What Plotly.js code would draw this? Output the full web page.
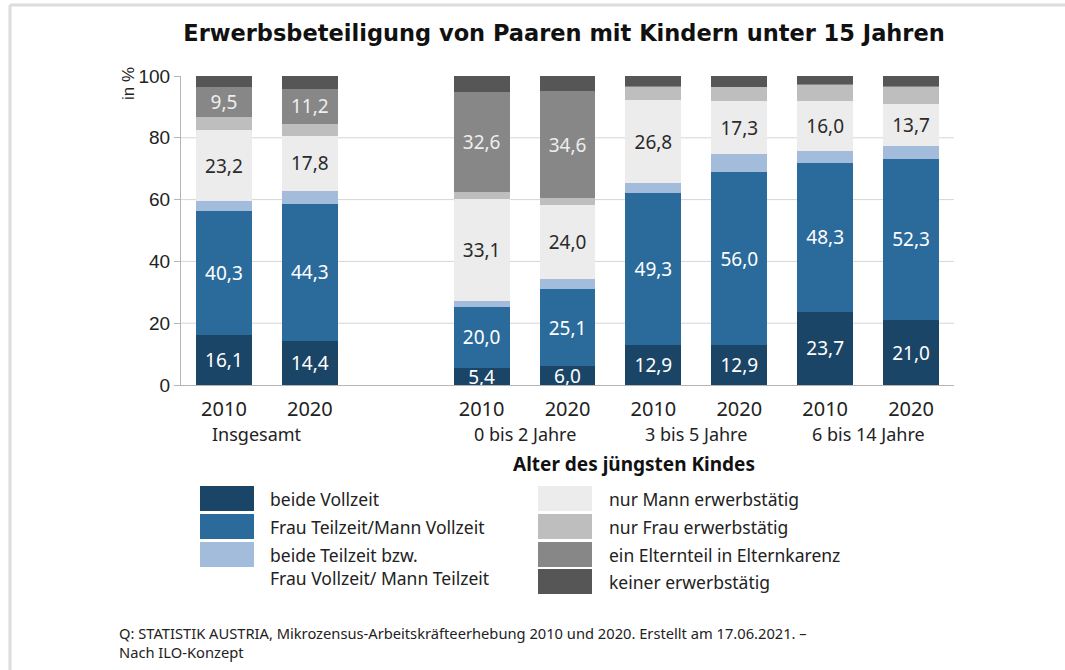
<!DOCTYPE html>
<html>
<head>
<meta charset="utf-8">
<script src="https://cdn.plot.ly/plotly-3.0.1.min.js"></script>
<style>
html,body{margin:0;padding:0;background:#fff;}
#chart{width:1065px;height:670px;}
</style>
</head>
<body>
<div id="chart"></div>
<script>
// ---- data ----
const groups = ["Insgesamt", "Insgesamt", "0 bis 2 Jahre", "0 bis 2 Jahre", "3 bis 5 Jahre", "3 bis 5 Jahre", "6 bis 14 Jahre", "6 bis 14 Jahre"];
const years = ["2010", "2020", "2010", "2020", "2010", "2020", "2010", "2020"];
const groupLabels = ["Insgesamt", "0 bis 2 Jahre", "3 bis 5 Jahre", "6 bis 14 Jahre"];

const seriesNames = [
  "beide Vollzeit",
  "Frau Teilzeit/Mann Vollzeit",
  "beide Teilzeit bzw.<br>Frau Vollzeit/ Mann Teilzeit",
  "nur Mann erwerbstätig",
  "nur Frau erwerbstätig",
  "ein Elternteil in Elternkarenz",
  "keiner erwerbstätig"
];
const beideVollzeit = [16.1, 14.4, 5.4, 6.0, 12.9, 12.9, 23.7, 21.0];
const frauTeilzeit  = [40.3, 44.3, 20.0, 25.1, 49.3, 56.0, 48.3, 52.3];
const beideTeilzeit = [3.0, 4.1, 1.8, 3.2, 3.1, 5.7, 3.8, 4.1];
const nurMann       = [23.2, 17.8, 33.1, 24.0, 26.8, 17.3, 16.0, 13.7];
const nurFrau       = [4.2, 4.0, 2.0, 2.1, 4.4, 4.4, 5.3, 5.4];
const elternkarenz  = [9.5, 11.2, 32.6, 34.6, 0.3, 0.3, 0.2, 0.2];
const keiner        = [3.7, 4.2, 5.1, 5.0, 3.2, 3.4, 2.7, 3.3];
const yTicks = [0, 20, 40, 60, 80, 100];

// ---- styles ----
const seriesValues = [beideVollzeit, frauTeilzeit, beideTeilzeit, nurMann, nurFrau, elternkarenz, keiner];
const colors = ["#1b4566", "#2b6b9c", "#a3bcdc", "#ececec", "#bebebe", "#878787", "#565656"];
const labelColors = ["#ffffff", "#ffffff", null, "#2a2a2a", null, "#eeeeee", null];
const FONT = "'Noto Sans', Lato, sans-serif";

// slot positions: leave one empty slot after the "Insgesamt" pair
const slots = years.map((y, i) => i + (i >= 2 ? 1 : 0));
const fmt = v => v.toFixed(1).replace(".", ",");

const traces = seriesValues.map((vals, k) => ({
  type: "bar",
  name: seriesNames[k],
  x: slots,
  y: vals,
  width: 0.65,
  marker: {color: colors[k], line: {width: 0}},
  text: labelColors[k] ? vals.map(v => v >= 5 ? fmt(v) : "") : vals.map(() => ""),
  textposition: "inside",
  insidetextanchor: "middle",
  textangle: 0,
  constraintext: "none",
  cliponaxis: false,
  textfont: {family: FONT, size: 19, color: labelColors[k] || "#fff"},
  hoverinfo: "skip",
  showlegend: false
}));

// pixel -> paper helpers (plot area: x 181..954, y 76..385)
const L = 181, R = 954, T = 76, B = 385;
const px = x => (x - L) / (R - L);
const py = y => (B - y) / (B - T);

const shapes = [];
const annotations = [];

// gridlines (except at 100)
yTicks.filter(v => v > 0 && v < 100).forEach(v => {
  shapes.push({type: "line", xref: "paper", yref: "y", x0: 0, x1: 1, y0: v, y1: v,
    line: {color: "#d6d6d6", width: 1}, layer: "below"});
});

// frame lines (top and left)
shapes.push({type: "line", xref: "paper", yref: "paper", x0: px(10), x1: px(1065), y0: py(5), y1: py(5), line: {color: "#dcdcdc", width: 3}});
shapes.push({type: "line", xref: "paper", yref: "paper", x0: px(10), x1: px(10), y0: py(5), y1: py(670), line: {color: "#dcdcdc", width: 3}});

// group labels
groupLabels.forEach((g, gi) => {
  const idx = groups.map((x, i) => x === g ? i : -1).filter(i => i >= 0);
  const cx = (slots[idx[0]] + slots[idx[idx.length - 1]]) / 2;
  annotations.push({xref: "x", yref: "paper", x: cx - (gi === 0 ? 0.12 : 0), y: py(434), text: g, showarrow: false,
    font: {family: FONT, size: 18, color: "#222"}, xanchor: "center", yanchor: "middle"});
});
annotations.push({xref: "paper", yref: "paper", x: px(634), y: py(464), text: "<b>Alter des jüngsten Kindes</b>",
  showarrow: false, font: {family: FONT, size: 19, color: "#111"}, xanchor: "center", yanchor: "middle"});

// y axis title
annotations.push({xref: "paper", yref: "paper", x: px(128), y: py(84), text: "in %", textangle: -90, showarrow: false,
  font: {family: "'Liberation Sans', Arial, sans-serif", size: 17, color: "#222"}, xanchor: "center", yanchor: "middle"});

// legend (custom two-column)
const legLeft = {sx0: 200, sx1: 254, tx: 268};
const legRight = {sx0: 538, sx1: 592, tx: 607};
const rowTop = [486, 514, 542, 569];
const rowH = 25;
seriesNames.forEach((n, k) => {
  const col = k < 3 ? legLeft : legRight;
  const r = k < 3 ? k : k - 3;
  const y0 = rowTop[r], y1 = rowTop[r] + rowH;
  shapes.push({type: "rect", xref: "paper", yref: "paper", x0: px(col.sx0), x1: px(col.sx1), y0: py(y1), y1: py(y0),
    fillcolor: colors[k], line: {width: 0}});
  annotations.push({xref: "paper", yref: "paper", x: px(col.tx), y: py(y0 - 1), text: n, showarrow: false,
    align: "left", xanchor: "left", yanchor: "top", font: {family: FONT, size: 17.5, color: "#222"}});
});

// source note
annotations.push({xref: "paper", yref: "paper", x: px(117), y: py(621),
  text: "Q: STATISTIK AUSTRIA, Mikrozensus-Arbeitskräfteerhebung 2010 und 2020. Erstellt am 17.06.2021. –<br>Nach ILO-Konzept",
  showarrow: false, align: "left", xanchor: "left", yanchor: "top",
  font: {family: FONT, size: 14.7, color: "#222"}});

const layout = {
  width: 1065, height: 670,
  margin: {l: L, r: 1065 - R, t: T, b: 670 - B, pad: 0},
  paper_bgcolor: "#ffffff", plot_bgcolor: "#ffffff",
  barmode: "stack",
  title: {text: "<b>Erwerbsbeteiligung von Paaren mit Kindern unter 15 Jahren</b>",
    font: {family: "'DejaVu Sans', sans-serif", size: 22.5, color: "#111"},
    x: px(564), xref: "paper", xanchor: "center", y: 1 - 33 / 670, yanchor: "middle"},
  xaxis: {
    range: [-0.5, 8.5], tickmode: "array", tickvals: slots, ticktext: years,
    tickfont: {family: FONT, size: 20, color: "#222"},
    showgrid: false, zeroline: false, showline: true, linecolor: "#b5b5b5", linewidth: 1,
    ticks: "", ticklabelstandoff: 6, fixedrange: true
  },
  yaxis: {
    range: [0, 100], tickmode: "array", tickvals: yTicks, ticktext: yTicks.map(String),
    tickfont: {family: "'Liberation Sans', Arial, sans-serif", size: 19, color: "#222"},
    showgrid: false, zeroline: false, showline: true, linecolor: "#b5b5b5", linewidth: 1,
    ticks: "outside", ticklen: 6, tickcolor: "#b5b5b5", fixedrange: true
  },
  shapes: shapes,
  annotations: annotations,
  showlegend: false
};

Plotly.newPlot("chart", traces, layout, {displayModeBar: false, staticPlot: true});
</script>
</body>
</html>
